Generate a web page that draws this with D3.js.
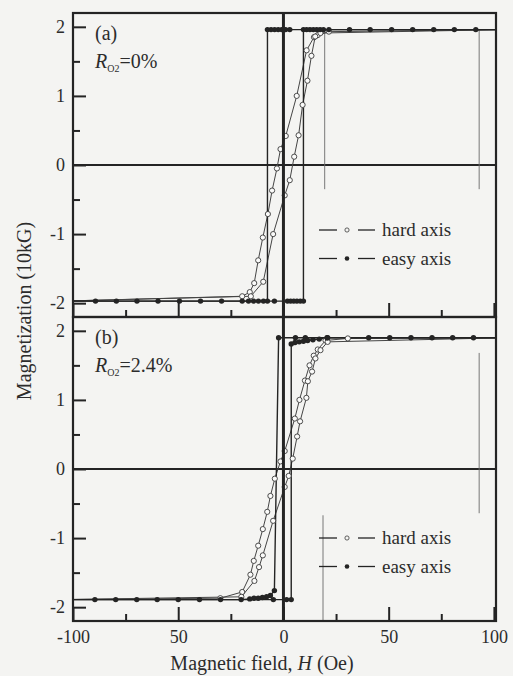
<!DOCTYPE html>
<html>
<head>
<meta charset="utf-8">
<script src="https://cdn.jsdelivr.net/npm/d3@7"></script>
<style>
  body { margin: 0; background: #f4f4f2; }
  svg { display: block; font-family: "Liberation Serif", "Times New Roman", Times, "DejaVu Serif", serif; }
  svg text { font-family: "Liberation Serif", "Times New Roman", Times, "DejaVu Serif", serif; }
</style>
</head>
<body>
<svg id="chart" width="513" height="676"></svg>
<script>
// axis ticks (the scan prints "50" for -50, kept as is)
const xTicks = [-100, -50, 0, 50, 100]
const xTickLabels = ["-100", "50", "0", "50", "100"]
const xMinor = [-75, -25, 25, 75]
const yTicks = [-2, -1, 0, 1, 2]
const yMinor = [-1.5, -0.5, 0.5, 1.5]

// [H (Oe), M (10kG)] -- end points at +-105 run off the frame
const hardA1 = [[-105, -1.97], [-19.6, -1.9], [-16, -1.84], [-13.9, -1.71], [-12, -1.38], [-9.8, -1.05], [-7.4, -0.71], [-5.4, -0.37], [-3.1, -0.05], [-1.4, 0.23], [1.1, 0.42], [6.3, 1.0], [11, 1.66], [14.5, 1.85], [16.3, 1.88], [21.6, 1.93], [105, 1.96]]
const hardA2 = [[-105, -1.97], [-15.5, -1.9], [-9.6, -1.69], [-4.9, -1.0], [0.6, -0.44], [3.0, -0.22], [5.1, 0.12], [7.2, 0.43], [9.1, 0.87], [11.4, 1.22], [13.3, 1.58], [15.1, 1.86], [17.6, 1.91], [105, 1.96]]
const easyA1 = [[105, 1.96], [91.4, 1.96], [81.2, 1.96], [71.4, 1.96], [61.4, 1.96], [51.4, 1.96], [41.2, 1.96], [31.4, 1.96], [21.6, 1.96], [3, 1.96], [1, 1.96], [-0.8, 1.96], [-2.5, 1.96], [-4.2, 1.96], [-5.9, 1.96], [-7.6, 1.96], [-7.6, -1.97], [-9.5, -1.97], [-11.9, -1.97], [-14.2, -1.97], [-16.6, -1.97], [-19.6, -1.97], [-29.4, -1.97], [-39.4, -1.97], [-49.4, -1.97], [-59.6, -1.97], [-69.6, -1.97], [-79.4, -1.97], [-89.3, -1.97], [-105, -1.97]]
const easyA2 = [[-105, -1.97], [-4.3, -1.97], [1.9, -1.97], [3.4, -1.97], [4.9, -1.97], [6.4, -1.97], [8, -1.97], [9.5, -1.97], [9.5, 1.96], [11, 1.96], [12.6, 1.96], [14.2, 1.96], [15.8, 1.96], [17.4, 1.96], [19, 1.96], [105, 1.96]]

const hardB1 = [[-105, -1.89], [-30, -1.87], [-19.6, -1.78], [-15.7, -1.53], [-14.1, -1.33], [-12, -1.11], [-9.8, -0.87], [-7.7, -0.62], [-6.2, -0.39], [-4.1, -0.14], [-1.4, 0.11], [0.6, 0.26], [5.4, 0.73], [7.6, 1.0], [10.2, 1.28], [12.4, 1.5], [14.4, 1.64], [16.3, 1.73], [20, 1.86], [30.6, 1.89], [105, 1.9]]
const hardB2 = [[-105, -1.89], [-20, -1.85], [-13.8, -1.62], [-11.6, -1.42], [-9.8, -1.25], [-4.9, -0.75], [0.6, -0.26], [2.5, -0.1], [4.4, 0.15], [6.5, 0.47], [7.9, 0.69], [10.9, 1.03], [11.6, 1.27], [13.6, 1.41], [15.2, 1.6], [17.6, 1.72], [21, 1.84], [105, 1.9]]
const easyB1 = [[105, 1.9], [90.3, 1.9], [80.4, 1.9], [70.6, 1.9], [60.6, 1.9], [50.5, 1.9], [40.5, 1.9], [20.7, 1.9], [10.4, 1.9], [5.7, 1.9], [-2.3, 1.9], [-4.3, -1.76], [-6.2, -1.83], [-8, -1.85], [-10, -1.86], [-12, -1.87], [-14, -1.87], [-16, -1.88], [-20.1, -1.89], [-29.9, -1.89], [-39.9, -1.89], [-50, -1.89], [-60, -1.89], [-69.7, -1.89], [-79.7, -1.89], [-89.6, -1.89], [-105, -1.89]]
const easyB2 = [[-105, -1.89], [-4.8, -1.89], [1.5, -1.89], [3.7, -1.89], [3.7, 1.81], [5.5, 1.83], [7.5, 1.84], [9.5, 1.85], [11.5, 1.86], [14, 1.87], [17, 1.88], [21, 1.9], [105, 1.9]]

// stray vertical strokes on the scan: [H, M from, M to]
const strayA = [[19.6, 1.96, -0.35], [93, 1.96, -0.35]]
const strayB = [[93, 1.68, -0.64], [18.8, -0.67, -2.2]]

const legendItems = [{label: "hard axis", filled: false}, {label: "easy axis", filled: true}]

const ink = "#242424"
const bg = "#f4f4f2"
const serif = "'Liberation Serif', 'Times New Roman', Times, 'DejaVu Serif', serif"
const W = 513, H = 676
const left = 73, right = 496, panelH = 304

const panels = [
  {key: "a", top: 13, tag: "(a)", ratio: "=0%", hard: [hardA1, hardA2], easy: [easyA1, easyA2], stray: strayA, legendY: 230, labels: false},
  {key: "b", top: 317, tag: "(b)", ratio: "=2.4%", hard: [hardB1, hardB2], easy: [easyB1, easyB2], stray: strayB, legendY: 538, labels: true}
]

const svg = d3.select("#chart")
svg.append("rect").attr("width", W).attr("height", H).attr("fill", bg)

const x = d3.scaleLinear().domain([-100, 101]).range([left, right])

panels.forEach(p => {
  const y = d3.scaleLinear().domain([-2.2, 2.2]).range([p.top + panelH, p.top])
  const g = svg.append("g").attr("class", `panel-${p.key}`)

  g.append("clipPath")
    .attr("id", `clip-${p.key}`)
    .append("rect")
    .attr("x", left)
    .attr("y", p.top)
    .attr("width", right - left)
    .attr("height", panelH)

  const plot = g.append("g").attr("clip-path", `url(#clip-${p.key})`)

  // zero line
  plot.append("line")
    .attr("x1", left).attr("x2", right)
    .attr("y1", y(0)).attr("y2", y(0))
    .attr("stroke", ink).attr("stroke-width", 2)

  plot.selectAll(".stray")
    .data(p.stray)
    .enter()
    .append("line")
    .attr("class", "stray")
    .attr("x1", d => x(d[0])).attr("x2", d => x(d[0]))
    .attr("y1", d => y(d[1])).attr("y2", d => y(d[2]))
    .attr("stroke", "#6a6a6a").attr("stroke-width", 0.9)

  const line = d3.line().x(d => x(d[0])).y(d => y(d[1]))

  plot.selectAll(".hard-line")
    .data(p.hard)
    .enter()
    .append("path")
    .attr("class", "hard-line")
    .attr("d", line)
    .attr("fill", "none")
    .attr("stroke", "#454545")
    .attr("stroke-width", 1)

  plot.selectAll(".easy-line")
    .data(p.easy)
    .enter()
    .append("path")
    .attr("class", "easy-line")
    .attr("d", line)
    .attr("fill", "none")
    .attr("stroke", ink)
    .attr("stroke-width", 1.4)

  plot.selectAll(".hard-pt")
    .data(p.hard.flat())
    .enter()
    .append("circle")
    .attr("class", "hard-pt")
    .attr("cx", d => x(d[0]))
    .attr("cy", d => y(d[1]))
    .attr("r", 2.6)
    .attr("fill", "#fbfbfa")
    .attr("stroke", "#3a3a3a")
    .attr("stroke-width", 0.9)

  plot.selectAll(".easy-pt")
    .data(p.easy.flat())
    .enter()
    .append("circle")
    .attr("class", "easy-pt")
    .attr("cx", d => x(d[0]))
    .attr("cy", d => y(d[1]))
    .attr("r", 2.7)
    .attr("fill", ink)

  // inward ticks on the left and bottom
  const styleAxis = sel => {
    sel.attr("font-family", serif)
    sel.select(".domain").remove()
    sel.selectAll(".tick line").attr("stroke", ink).attr("stroke-width", 2)
    sel.selectAll(".tick text")
      .attr("fill", "#2c2c2c")
      .attr("font-size", 18)
  }

  g.append("g")
    .attr("transform", `translate(${left},0)`)
    .call(d3.axisLeft(y).tickValues(yTicks).tickSizeInner(-13).tickSizeOuter(0).tickPadding(8).tickFormat(d => String(d)))
    .call(styleAxis)

  g.append("g")
    .attr("transform", `translate(${left},0)`)
    .call(d3.axisLeft(y).tickValues(yMinor).tickSizeInner(-7).tickSizeOuter(0).tickFormat(""))
    .call(styleAxis)

  g.append("g")
    .attr("transform", `translate(0,${p.top + panelH})`)
    .call(d3.axisBottom(x).tickValues(xTicks).tickSizeInner(-14).tickSizeOuter(0).tickPadding(9)
      .tickFormat((d, i) => p.labels ? xTickLabels[i] : ""))
    .call(styleAxis)

  g.append("g")
    .attr("transform", `translate(0,${p.top + panelH})`)
    .call(d3.axisBottom(x).tickValues(xMinor).tickSizeInner(-7).tickSizeOuter(0).tickFormat(""))
    .call(styleAxis)

  g.append("rect")
    .attr("x", left).attr("y", p.top)
    .attr("width", right - left).attr("height", panelH)
    .attr("fill", "none")
    .attr("stroke", ink)
    .attr("stroke-width", 2.2)

  // panel tag and oxygen ratio
  g.append("text")
    .attr("x", 95).attr("y", p.top + 27)
    .attr("font-family", serif)
    .attr("font-size", 20).attr("fill", "#2c2c2c")
    .text(p.tag)

  const r = g.append("text")
    .attr("x", 95).attr("y", p.top + 55)
    .attr("font-family", serif)
    .attr("font-size", 20).attr("fill", "#2c2c2c")
  r.append("tspan").attr("font-style", "italic").text("R")
  r.append("tspan").attr("font-size", 10).attr("dy", 4).text("O2")
  r.append("tspan").attr("dy", -4).text(p.ratio)

  // legend
  const lg = g.selectAll(".legend")
    .data(legendItems)
    .enter()
    .append("g")
    .attr("class", "legend")
    .attr("transform", (d, i) => `translate(0,${p.legendY + i * 28.5})`)

  lg.append("line").attr("x1", 319).attr("x2", 337).attr("stroke", ink).attr("stroke-width", 1.3)
  lg.append("line").attr("x1", 358).attr("x2", 375).attr("stroke", ink).attr("stroke-width", 1.3)
  lg.append("circle")
    .attr("cx", 347)
    .attr("r", d => d.filled ? 2.3 : 2.1)
    .attr("fill", d => d.filled ? ink : bg)
    .attr("stroke", d => d.filled ? "none" : "#3a3a3a")
    .attr("stroke-width", 0.8)
  lg.append("text")
    .attr("x", 382).attr("dy", "0.33em")
    .attr("font-family", serif)
    .attr("font-size", 19).attr("fill", "#2c2c2c")
    .text(d => d.label)
})

// H = 0 line through both panels
svg.append("line")
  .attr("x1", x(0)).attr("x2", x(0))
  .attr("y1", panels[0].top).attr("y2", panels[1].top + panelH)
  .attr("stroke", ink).attr("stroke-width", 3)

// axis titles
svg.append("text")
  .attr("transform", "translate(31,311) rotate(-90)")
  .attr("text-anchor", "middle")
  .attr("font-family", serif)
  .attr("font-size", 20).attr("fill", "#2c2c2c")
  .text("Magnetization (10kG)")

const xt = svg.append("text")
  .attr("x", 262).attr("y", 670)
  .attr("text-anchor", "middle")
  .attr("font-family", serif)
  .attr("font-size", 20).attr("fill", "#2c2c2c")
xt.append("tspan").text("Magnetic field, ")
xt.append("tspan").attr("font-style", "italic").text("H")
xt.append("tspan").text(" (Oe)")
</script>
</body>
</html>
